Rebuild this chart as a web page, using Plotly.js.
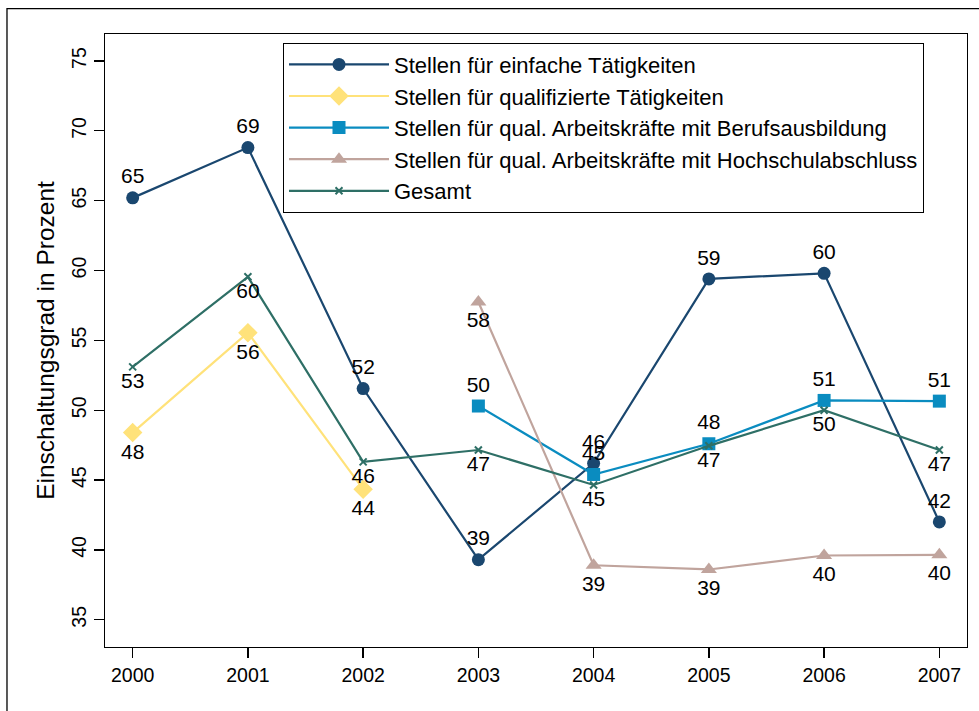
<!DOCTYPE html>
<html>
<head>
<meta charset="utf-8">
<script src="https://cdn.plot.ly/plotly-3.0.1.min.js"></script>
<style>html,body{margin:0;padding:0;background:#fff;}#chart{width:979px;height:711px;}</style>
</head>
<body>
<div id="chart"></div>
<script>
const years = [2000, 2001, 2002, 2003, 2004, 2005, 2006, 2007];
const einfache = [65.2, 68.8, 51.55, 39.3, 46.2, 59.4, 59.8, 42.0];
const qualifiziert = [48.4, 55.55, 44.35, null, null, null, null, null];
const berufsausbildung = [null, null, null, 50.3, 45.4, 47.6, 50.7, 50.65];
const hochschule = [null, null, null, 57.75, 38.9, 38.6, 39.6, 39.65];
const gesamt = [53.1, 59.55, 46.3, 47.15, 44.65, 47.45, 50.0, 47.15];
const names = [
  "Stellen für einfache Tätigkeiten",
  "Stellen für qualifizierte Tätigkeiten",
  "Stellen für qual. Arbeitskräfte mit Berufsausbildung",
  "Stellen für qual. Arbeitskräfte mit Hochschulabschluss",
  "Gesamt"
];
const yTicks = [35, 40, 45, 50, 55, 60, 65, 70, 75];

const FONT = "Arial, 'Liberation Sans', sans-serif";
function tr(y, name, color, symbol, size, pos) {
  return {
    x: years, y: y, name: name, type: 'scatter', mode: 'lines+markers+text',
    line: {color: color, width: 2.2},
    marker: symbol === 'x-thin'
      ? {symbol: symbol, size: size, color: color, line: {color: color, width: 2}}
      : {symbol: symbol, size: size, color: color},
    texttemplate: '%{y:.0f}', textposition: pos,
    textfont: {family: FONT, size: 21, color: '#000'},
    cliponaxis: false, connectgaps: false, hoverinfo: 'x+y'
  };
}
const data = [
  tr(einfache, names[0], '#1a476f', 'circle', 13, 'top center'),
  tr(qualifiziert, names[1], '#ffe27a', 'diamond', 15, 'bottom center'),
  tr(berufsausbildung, names[2], '#0a8cc0', 'square', 13, 'top center'),
  tr(hochschule, names[3], '#c0a49d', 'triangle-up', 14, 'bottom center'),
  tr(gesamt, names[4], '#2e6f66', 'x-thin', 7, 'bottom center')
];
const layout = {
  width: 979, height: 711,
  margin: {l: 105, r: 12, t: 34, b: 64},
  paper_bgcolor: '#fff', plot_bgcolor: '#fff',
  font: {family: FONT, size: 19.5, color: '#000'},
  showlegend: true,
  legend: {
    x: 0.2065, y: 0.986, xanchor: 'left', yanchor: 'top',
    bgcolor: '#fff', bordercolor: '#000', borderwidth: 1,
    font: {family: FONT, size: 22, color: '#000'},
    itemwidth: 100, tracegroupgap: 0
  },
  xaxis: {
    range: [1999.76, 2007.24], tickvals: years, ticktext: years.map(String),
    ticks: 'outside', ticklen: 10, tickcolor: '#000', tickwidth: 1.3,
    showline: true, linecolor: '#000', linewidth: 1.3, mirror: true,
    showgrid: false, zeroline: false,
    tickfont: {family: FONT, size: 19.5, color: '#000'}
  },
  yaxis: {
    range: [33.05, 76.93], tickvals: yTicks, ticktext: yTicks.map(String),
    ticks: 'outside', ticklen: 10, tickcolor: '#000', tickwidth: 1.3,
    tickangle: -90,
    showline: true, linecolor: '#000', linewidth: 1.3, mirror: true,
    showgrid: false, zeroline: false,
    tickfont: {family: FONT, size: 19.5, color: '#000'},
    title: {text: 'Einschaltungsgrad in Prozent', font: {family: FONT, size: 24.5, color: '#000'}, standoff: 6}
  },
  shapes: [{
    type: 'rect', xref: 'paper', yref: 'paper',
    x0: -0.1137, x1: 1.2, y0: -0.3, y1: 1.0413,
    line: {color: '#000', width: 1.3}, fillcolor: 'rgba(0,0,0,0)', layer: 'below'
  }]
};
Plotly.newPlot('chart', data, layout, {displayModeBar: false, staticPlot: true});
</script>
</body>
</html>
